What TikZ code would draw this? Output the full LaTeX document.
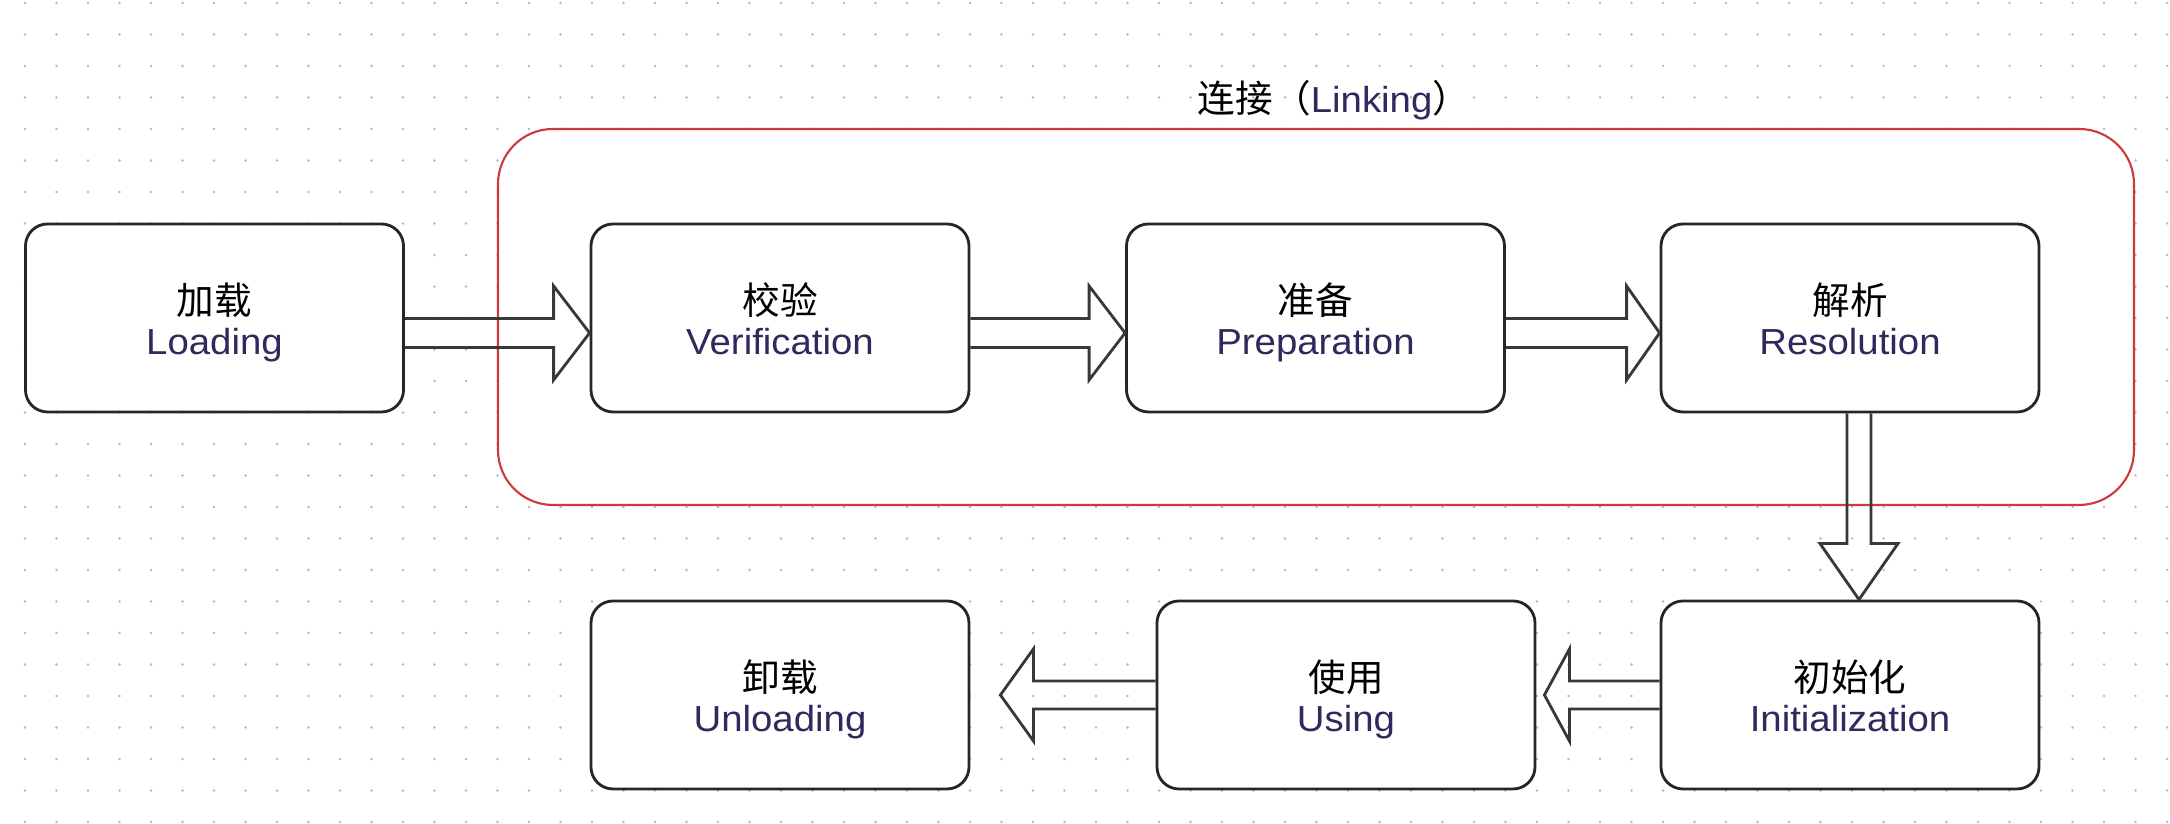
\documentclass[tikz,border=0pt]{standalone}
\usepackage{fontspec}
\setmainfont[FakeStretch=1.06]{Liberation Sans}
\newfontfamily\cjk{Noto Sans CJK SC}
\usetikzlibrary{calc}
\definecolor{entext}{HTML}{2E2A5C}
\definecolor{linkred}{HTML}{CC3B3B}
\definecolor{gridgray}{HTML}{B8B8B8}
\newcommand{\zh}[1]{{\cjk\fontsize{10.7}{11.4}\selectfont #1}}
\newcommand{\en}[1]{{\color{entext}#1}}
\newcommand{\rightblock}[5]{\draw[blockarr] let \p1=(#1), \p2=(#2) in
  (\x1,\y1+#3) -- (\x2-#5,\y1+#3) -- (\x2-#5,\y1+#4) -- (\x2,\y1) -- (\x2-#5,\y1-#4) -- (\x2-#5,\y1-#3) -- (\x1,\y1-#3);}
\newcommand{\leftblock}[5]{\draw[blockarr] let \p1=(#1), \p2=(#2) in
  (\x1,\y1+#3) -- (\x2+#5,\y1+#3) -- (\x2+#5,\y1+#4) -- (\x2,\y1) -- (\x2+#5,\y1-#4) -- (\x2+#5,\y1-#3) -- (\x1,\y1-#3);}
\newcommand{\downblock}[5]{\draw[blockarr] let \p1=(#1), \p2=(#2) in
  (\x1-#3,\y1) -- (\x1-#3,\y2+#5) -- (\x1-#4,\y2+#5) -- (\x1,\y2) -- (\x1+#4,\y2+#5) -- (\x1+#3,\y2+#5) -- (\x1+#3,\y1);}
\tikzset{
  stagebox/.style={draw=black!85, line width=0.8pt, fill=white, rounded corners=0.22cm,
    minimum width=3.78cm, minimum height=1.88cm, inner sep=0pt, align=center,
    text height=0.74cm, text depth=0pt, font=\fontsize{10.3}{11.38}\selectfont},
  linkframe/.style={draw=linkred, line width=0.6pt, fill=white, rounded corners=0.55cm,
    minimum width=16.36cm, minimum height=3.76cm, inner sep=0pt},
  blockarr/.style={draw=black!78, line width=0.8pt, line join=miter},
}
\begin{document}
\begin{tikzpicture}
\useasboundingbox (0,0) rectangle (21.70,8.24);
\fill[white] (0,0) rectangle (21.70,8.24);
% dot grid
\fill[gridgray] \foreach \i in {0,...,68} {\foreach \j in {0,...,26} {(0.25+0.315*\i, 8.21-0.315*\j) circle (0.013)}};
% linking container
\node[linkframe] (linkbox) at (13.16,5.07) {};
\node[anchor=base, font=\fontsize{10.3}{11.38}\selectfont] (title) at (13.34,7.11) {\zh{连接（}\en{Linking}\zh{）}};
% stages
\node[stagebox] (load)   at (2.145,5.06) {\zh{加载}\\\en{Loading}};
\node[stagebox] (verif)  at (7.80,5.06)  {\zh{校验}\\\en{Verification}};
\node[stagebox] (prep)   at (13.155,5.06) {\zh{准备}\\\en{Preparation}};
\node[stagebox] (resol)  at (18.50,5.06) {\zh{解析}\\\en{Resolution}};
\node[stagebox] (init)   at (18.50,1.29) {\zh{初始化}\\\en{Initialization}};
\node[stagebox] (using)  at (13.46,1.29) {\zh{使用}\\\en{Using}};
\node[stagebox] (unload) at (7.80,1.29)  {\zh{卸载}\\\en{Unloading}};
% block arrows
\rightblock{$(load.east)+(0,-0.15)$}{$(verif.west)+(0,-0.15)$}{0.145cm}{0.47cm}{0.36cm}
\rightblock{$(verif.east)+(0,-0.15)$}{$(prep.west)+(0,-0.15)$}{0.145cm}{0.47cm}{0.36cm}
\rightblock{$(prep.east)+(0,-0.15)$}{$(resol.west)+(0,-0.15)$}{0.145cm}{0.47cm}{0.33cm}
\downblock{$(resol.south)+(0.09,0)$}{$(init.north)+(0.09,0)$}{0.12cm}{0.39cm}{0.56cm}
\leftblock{init.west}{$(using.east)+(0.08,0)$}{0.14cm}{0.46cm}{0.25cm}
\leftblock{using.west}{$(unload.east)+(0.30,0)$}{0.14cm}{0.46cm}{0.33cm}
\end{tikzpicture}
\end{document}
